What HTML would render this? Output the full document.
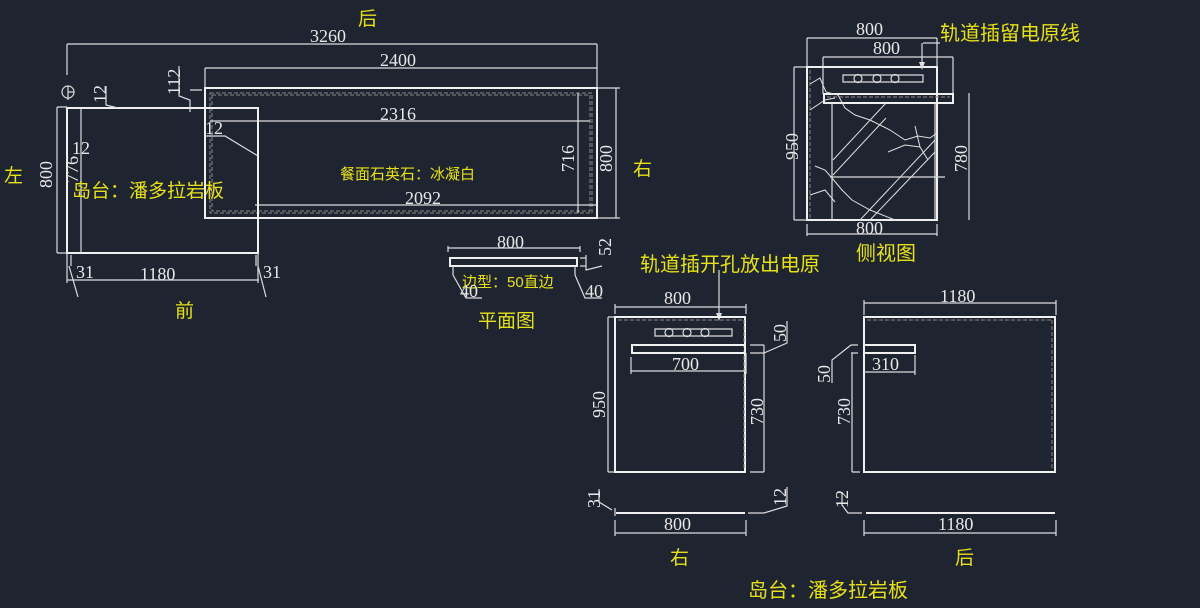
<!DOCTYPE html>
<html><head><meta charset="utf-8"><style>
html,body{margin:0;padding:0;background:#1f2530;width:1200px;height:608px;overflow:hidden}
svg{display:block}
.n{font-family:"Liberation Serif",serif;font-size:18px;fill:#e8e8e8}
.y{font-family:"Liberation Sans","Noto Sans CJK SC",sans-serif;fill:#e6e01a}
.l{stroke:#dcdcdc;stroke-width:1.2;fill:none}
.t{stroke:#f0f0f0;stroke-width:2;fill:none}
.d{stroke:#888;stroke-width:1;fill:none;stroke-dasharray:4 2}
.v{stroke:#e0e0e0;stroke-width:1;fill:none}
</style></head><body>
<svg width="1200" height="608" viewBox="0 0 1200 608" xmlns="http://www.w3.org/2000/svg">
<!-- Plan view -->
<text class="y" x="358" y="25" font-size="19">后</text>
<text class="n" x="310" y="42">3260</text>
<path class="l" d="M67 44H597M67 44V75M597 44V88"/>
<text class="n" x="380" y="66">2400</text>
<path class="l" d="M205 68H597M205 68V88"/>
<rect class="t" x="205" y="88" width="392" height="130"/>
<rect class="d" x="210" y="93" width="382" height="120"/>
<rect class="d" x="212" y="95" width="378" height="116"/>
<text class="n" x="380" y="120">2316</text>
<path class="l" d="M210 121H590"/>
<text class="n" x="405" y="204">2092</text>
<path class="l" d="M255 205H597"/>
<path class="l" d="M578 93V213M598 88H620M598 218H620M616 88V218"/>
<text class="n" transform="translate(574,172) rotate(-90)">716</text>
<text class="n" transform="translate(612,172) rotate(-90)">800</text>
<text class="y" x="633" y="175" font-size="19">右</text>
<text class="y" x="340" y="179" font-size="15">餐面石英石：冰凝白</text>
<!-- island -->
<rect class="t" x="67" y="108" width="191" height="145" fill="#1f2530"/>
<path class="l" d="M81 108V253M57 107H67M57 253H67M57 107V253"/>
<circle class="l" cx="68" cy="92" r="6"/><path class="l" d="M68 92H74M68 86V100"/>
<text class="n" transform="translate(52,188) rotate(-90)">800</text>
<text class="n" transform="translate(78,183) rotate(-90)" font-size="16">776</text>
<text class="n" x="72" y="154">12</text>
<text class="n" transform="translate(106,103) rotate(-90)" font-size="17">12</text>
<path class="l" d="M106 86V105L118 108"/>
<text class="n" transform="translate(180,95) rotate(-90)" font-size="17">112</text>
<path class="l" d="M179 66V96L190 100V112M190 90H202"/>
<text class="n" x="205" y="134" font-size="17">12</text>
<path class="l" d="M205 136H225L258 156"/>
<text class="y" x="72" y="197" font-size="19">岛台：潘多拉岩板</text>
<text class="y" x="4" y="182" font-size="19">左</text>
<path class="l" d="M67 253V283M258 253V283M67 280H259M71 255V266M256 255V266M69 266L78 297M258 266L266 297"/>
<text class="n" x="76" y="278">31</text>
<text class="n" x="140" y="280">1180</text>
<text class="n" x="263" y="278">31</text>
<text class="y" x="175" y="317" font-size="19">前</text>
<!-- small plan profile -->
<text class="n" x="497" y="248">800</text>
<path class="l" d="M448 248H580M448 246V252M580 246V252"/>
<rect class="t" x="450" y="258" width="127" height="8"/>
<path class="l" d="M453 266V275M575 266V275M580 258H586M580 266H586M586 255V270L602 266M453 275L466 298H482M575 275L585 298H602"/>
<text class="n" transform="translate(611,256) rotate(-90)">52</text>
<text class="y" x="462" y="287" font-size="15">边型：50直边</text>
<text class="n" x="460" y="297">40</text>
<text class="n" x="585" y="297">40</text>
<text class="y" x="478" y="327" font-size="19">平面图</text>
<!-- side view -->
<text class="n" x="856" y="35">800</text>
<path class="l" d="M807 38H937M807 38V67M937 38V67"/>
<text class="n" x="873" y="54">800</text>
<path class="l" d="M823 57H953M823 57V94M953 57V94"/>
<rect class="t" x="807" y="67" width="130" height="153"/>
<path class="d" d="M810 70V218"/>
<rect class="t" x="824" y="94" width="129" height="9"/>
<path class="d" d="M827 97H950"/>
<path class="l" d="M832 103V220M935 103V220M830 177H945"/>
<path class="v" d="M833 160L886 103M833 175L886 118M860 220L935 140M870 220L935 152"/>
<path class="v" d="M810 84L820 78L826 92L838 95L845 108L855 115L870 120L890 130L905 140L918 136L930 138L937 133M810 110L825 100L835 98M815 166L825 170L832 178L842 190L852 200L870 210L895 220M810 195L825 190L835 202M888 152L905 145L920 147L928 160M920 147L915 126"/>
<path class="l" d="M843 75H923V82H843Z"/>
<circle class="l" cx="858" cy="78.5" r="4"/><circle class="l" cx="877" cy="78.5" r="4"/><circle class="l" cx="895" cy="78.5" r="4"/>
<path class="l" d="M923 43H940M922 43V68"/><path d="M919 62L922 70L925 62Z" fill="#ddd"/>
<text class="y" x="940" y="40" font-size="20">轨道插留电原线</text>
<text class="n" transform="translate(798,160) rotate(-90)">950</text>
<path class="l" d="M794 67V220M794 67H807M794 220H807"/>
<text class="n" transform="translate(967,172) rotate(-90)">780</text>
<path class="l" d="M969 93V220"/>
<text class="n" x="856" y="234">800</text>
<path class="l" d="M807 234H937M807 224V236M937 224V236"/>
<text class="y" x="856" y="260" font-size="20">侧视图</text>
<!-- front elev -->
<text class="y" x="640" y="271" font-size="20">轨道插开孔放出电原</text>
<path class="l" d="M719 270V318"/><path d="M716 313L719 321L722 313Z" fill="#ddd"/>
<text class="n" x="664" y="304">800</text>
<path class="l" d="M615 307H746M615 304V314M746 304V314"/>
<rect class="t" x="615" y="317" width="130" height="155"/>
<path class="d" d="M744 320V470M618 320H744"/>
<path class="l" d="M655 329H732V336H655Z"/>
<circle class="l" cx="669" cy="332.5" r="4"/><circle class="l" cx="687" cy="332.5" r="4"/><circle class="l" cx="705" cy="332.5" r="4"/>
<rect class="t" x="632" y="345" width="113" height="8" fill="#1f2530"/>
<path class="l" d="M631 371H746M631 357V374M746 353V374M750 345H764M750 353H764M764 345V353L787 343V321"/>
<text class="n" x="672" y="370">700</text>
<text class="n" transform="translate(605,418) rotate(-90)">950</text>
<path class="l" d="M608 317V472M608 317H614M608 472H614"/>
<text class="n" transform="translate(763,425) rotate(-90)">730</text>
<path class="l" d="M764 353V472M750 472H764"/>
<text class="n" transform="translate(786,342) rotate(-90)" font-size="17">50</text>
<path class="t" d="M616 513H745"/>
<path class="l" d="M615 508V516M748 513H764L787 506V487M612 510L599 502V489"/>
<text class="n" transform="translate(600,508) rotate(-90)" font-size="17">31</text>
<text class="n" transform="translate(786,506) rotate(-90)" font-size="17">12</text>
<text class="n" x="664" y="530">800</text>
<path class="l" d="M615 533H746M615 520V536M746 520V536"/>
<text class="y" x="670" y="564" font-size="19">右</text>
<!-- back elev -->
<text class="n" x="940" y="302">1180</text>
<path class="l" d="M864 303H1056M864 300V315M1056 300V315"/>
<rect class="t" x="864" y="317" width="191" height="155"/>
<path class="d" d="M1052 320V470M867 320H1052"/>
<rect class="t" x="864" y="345" width="51" height="8" fill="#1f2530"/>
<path class="l" d="M864 372H915M915 355V375M851 345H858M851 353H858M851 345L832 360V383"/>
<text class="n" x="872" y="370">310</text>
<text class="n" transform="translate(830,383) rotate(-90)" font-size="17">50</text>
<text class="n" transform="translate(850,425) rotate(-90)">730</text>
<path class="l" d="M852 353V472M852 472H860"/>
<path class="t" d="M866 513H1055"/>
<path class="l" d="M862 513H848L842 505V492"/>
<text class="n" transform="translate(848,508) rotate(-90)" font-size="17">12</text>
<text class="n" x="938" y="530">1180</text>
<path class="l" d="M864 533H1056M864 520V536M1056 520V536"/>
<text class="y" x="955" y="564" font-size="19">后</text>
<text class="y" x="748" y="597" font-size="20">岛台：潘多拉岩板</text>
</svg>
</body></html>
